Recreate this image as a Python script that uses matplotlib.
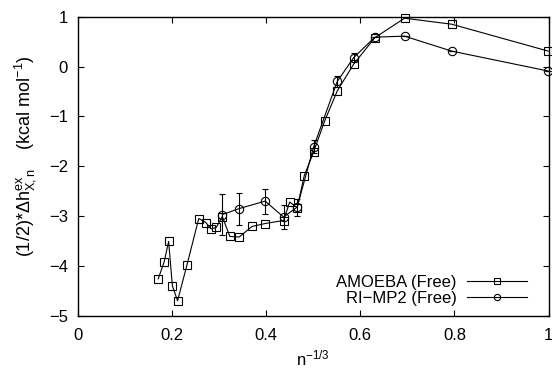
import matplotlib
matplotlib.use("Agg")
import matplotlib.pyplot as plt
from matplotlib.lines import Line2D

plt.rcParams['font.family'] = ['Liberation Sans', 'DejaVu Sans']
plt.rcParams['mathtext.fontset'] = 'custom'
plt.rcParams['mathtext.rm'] = 'Liberation Sans'
plt.rcParams['mathtext.it'] = 'Liberation Sans'

amoeba_x = [0.171, 0.1835, 0.193, 0.201, 0.212, 0.232, 0.257, 0.272, 0.283, 0.294, 0.307,
            0.323, 0.343, 0.370, 0.398, 0.437, 0.450, 0.466, 0.481, 0.501, 0.524, 0.551,
            0.586, 0.631, 0.694, 0.794, 0.999]
amoeba_y = [-4.26, -3.92, -3.51, -4.40, -4.70, -3.98, -3.05, -3.13, -3.26, -3.23, -3.01,
            -3.41, -3.42, -3.21, -3.15, -3.09, -2.72, -2.83, -2.19, -1.71, -1.10, -0.49,
            0.05, 0.58, 0.97, 0.85, 0.31]

rimp2_x = [0.307, 0.343, 0.398, 0.437, 0.466, 0.501, 0.551, 0.586, 0.631, 0.694, 0.794, 0.999]
rimp2_y = [-2.97, -2.85, -2.70, -3.02, -2.82, -1.61, -0.30, 0.18, 0.59, 0.61, 0.31, -0.09]
rimp2_err = [0.42, 0.32, 0.25, 0.24, 0.17, 0.13, 0.11, 0.09, 0.0, 0.0, 0.0, 0.0]

xticks = [0, 0.2, 0.4, 0.6, 0.8, 1]
xticklabels = ['0', '0.2', '0.4', '0.6', '0.8', '1']
yticks = [-5, -4, -3, -2, -1, 0, 1]
yticklabels = ['\u22125', '\u22124', '\u22123', '\u22122', '\u22121', '0', '1']

fig = plt.figure(figsize=(5.52, 3.74), dpi=100)
ax = fig.add_axes([0.1408, 0.1559, 0.994 - 0.1408, 0.9553 - 0.1559])

ax.plot(amoeba_x, amoeba_y, color='black', lw=0.8, marker='s', ms=5.8,
        mfc='none', mec='black', mew=0.8, clip_on=False, zorder=3)
ax.errorbar(rimp2_x, rimp2_y, yerr=rimp2_err, color='black', lw=0.8, marker='o', ms=6.0,
            mfc='none', mec='black', mew=0.8, ecolor='black', elinewidth=0.8, capsize=2,
            capthick=0.8, clip_on=False, zorder=3)

ax.set_xlim(0, 1)
ax.set_ylim(-5, 1)
ax.set_xticks(xticks)
ax.set_xticklabels(xticklabels)
ax.set_yticks(yticks)
ax.set_yticklabels(yticklabels)
ax.tick_params(direction='in', top=True, right=True, labelsize=12, length=4, width=0.8)
ax.tick_params(axis='x', pad=9)
ax.tick_params(axis='y', pad=7)
for s in ax.spines.values():
    s.set_linewidth(1.0)

ax.set_xlabel('n$^{\u22121/3}$', fontsize=12, labelpad=4)
ax.set_ylabel('(1/2)*\u0394h$^{ex}_{X,n}$    (kcal mol$^{\u22121}$)', fontsize=13, labelpad=4)
ax.yaxis.set_label_coords(-0.085, 0.535)

handles = [Line2D([], [], color='black', lw=0.8, marker='s', ms=4.5, mfc='none', mec='black', mew=0.8),
           Line2D([], [], color='black', lw=0.8, marker='o', ms=4.5, mfc='none', mec='black', mew=0.8)]
labels = ['AMOEBA (Free)', 'RI\u2212MP2 (Free)']
ax.legend(handles, labels, loc='lower right', bbox_to_anchor=(0.975, 0.0), frameon=False,
          markerfirst=False, fontsize=12, handlelength=3.6, borderaxespad=0.2,
          labelspacing=0.05, handletextpad=0.6, numpoints=1)

fig.savefig('out.png', dpi=100)
